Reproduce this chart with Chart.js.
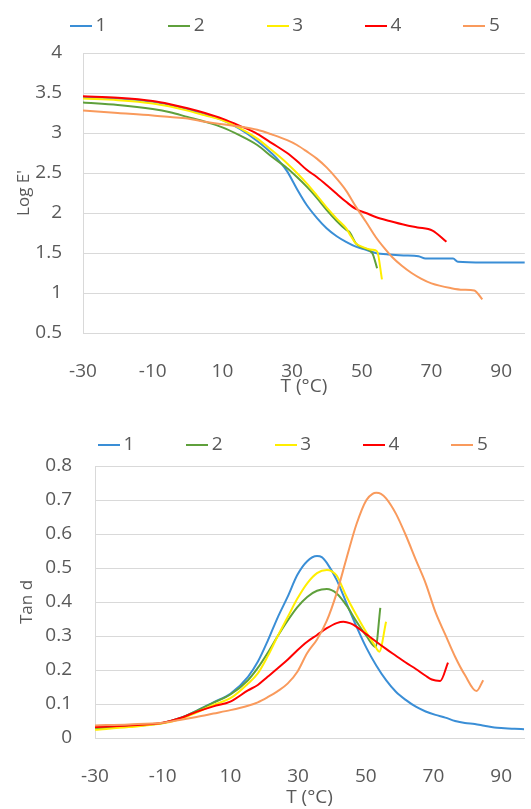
<!DOCTYPE html>
<html>
<head>
<meta charset="utf-8">
<script src="https://cdn.jsdelivr.net/npm/chart.js@4/dist/chart.umd.min.js"></script>
<style>
  html, body { margin: 0; padding: 0; background: #fff; overflow: hidden; }
  .box { position: relative; width: 531px; }
  #top_box { height: 402px; }
  #bottom_box { height: 407px; }
</style>
</head>
<body>
<div class="box" id="top_box"><canvas id="modulus"></canvas></div>
<div class="box" id="bottom_box"><canvas id="tan_delta"></canvas></div>
<script>
const FONT = 'Open Sans';
const TEXT_COLOR = '#595959';
const GRID_COLOR = '#d9d9d9';
const LEGEND_LINE = 22;
const LEGEND_BOX = 10;

const SERIES = ['1', '2', '3', '4', '5'];
const COLORS = ['#3a8ed6', '#5fa03c', '#ffee00', '#ff0000', '#f99a5c'];

const X_MIN = -30;
const X_MAX = 96.8;
const X_TICKS = [-30, -10, 10, 30, 50, 70, 90];
const LOG_E_TICKS = [0.5, 1, 1.5, 2, 2.5, 3, 3.5, 4];
const TAN_D_TICKS = [0, 0.1, 0.2, 0.3, 0.4, 0.5, 0.6, 0.7, 0.8];

// Log E' against temperature
const t_e1 = [-30, -20, -10, -5, 0, 5, 10, 15, 20, 24.3, 26.5, 28.6, 31.4, 34.2, 37.1, 39.9, 42.8, 45.5, 48.3, 51.2, 54, 58, 62, 66.3, 68.3, 76.2, 77.6, 85, 96.8];
const log_e1 = [3.45, 3.43, 3.39, 3.35, 3.3, 3.23, 3.16, 3.05, 2.9, 2.74, 2.64, 2.52, 2.3, 2.1, 1.94, 1.81, 1.71, 1.64, 1.58, 1.54, 1.5, 1.48, 1.47, 1.46, 1.43, 1.43, 1.39, 1.38, 1.38];

const t_e2 = [-30, -20, -10, -5, 0, 5, 10, 15, 20, 24.3, 28.6, 31.4, 34.2, 37.1, 39.9, 42.8, 45.5, 46.5, 48.3, 50, 53, 54.4];
const log_e2 = [3.38, 3.35, 3.3, 3.26, 3.2, 3.14, 3.07, 2.97, 2.85, 2.7, 2.56, 2.45, 2.33, 2.19, 2.04, 1.9, 1.79, 1.76, 1.62, 1.57, 1.5, 1.31];

const t_e3 = [-30, -20, -10, -5, 0, 5, 10, 15, 20, 24.3, 28.6, 31.4, 34.2, 37.1, 39.9, 42.8, 45.5, 46.9, 48.3, 50, 53, 54.4, 55.8];
const log_e3 = [3.43, 3.41, 3.37, 3.33, 3.28, 3.22, 3.16, 3.06, 2.93, 2.78, 2.62, 2.5, 2.37, 2.22, 2.07, 1.93, 1.81, 1.71, 1.62, 1.58, 1.54, 1.52, 1.17];

const t_e4 = [-30, -20, -10, -5, 0, 5, 10, 15, 20, 24.3, 28.6, 31.4, 34.2, 37.1, 39.9, 42.8, 45.5, 48.3, 51.2, 54, 58, 62.5, 66, 70.3, 74.3];
const log_e4 = [3.46, 3.44, 3.4, 3.36, 3.31, 3.25, 3.18, 3.09, 2.99, 2.87, 2.75, 2.65, 2.54, 2.45, 2.35, 2.24, 2.14, 2.05, 2.0, 1.95, 1.9, 1.85, 1.82, 1.78, 1.64];

const t_e5 = [-30, -20, -10, -5, 0, 5, 10, 15, 20, 24.3, 28.6, 31.4, 34.2, 37.1, 39.9, 42.8, 45.5, 48.3, 51.2, 54, 56.5, 58.7, 61.5, 64.3, 67, 70, 75.7, 79, 82.3, 84.6];
const log_e5 = [3.28, 3.25, 3.22, 3.2, 3.18, 3.14, 3.11, 3.08, 3.04, 2.98, 2.91, 2.85, 2.77, 2.68, 2.57, 2.43, 2.28, 2.08, 1.89, 1.7, 1.56, 1.45, 1.34, 1.25, 1.18, 1.12, 1.06, 1.04, 1.03, 0.92];

// Tan d against temperature
const t_tan1 = [-30, -20, -10, -5, 0, 5, 10, 15.2, 18.1, 21, 24, 26.9, 29.8, 32.7, 35.6, 37, 38.5, 41.4, 44.3, 47.3, 50.2, 53.1, 56, 58.9, 61.8, 64.8, 67.7, 70.6, 73.5, 76.4, 79.3, 82.2, 85, 88, 91, 94, 96.8];
const tan1 = [0.028, 0.035, 0.044, 0.058, 0.08, 0.105, 0.13, 0.18, 0.224, 0.285, 0.355, 0.415, 0.48, 0.52, 0.535, 0.532, 0.515, 0.465, 0.397, 0.327, 0.265, 0.213, 0.17, 0.136, 0.112, 0.092, 0.078, 0.068, 0.06, 0.05, 0.044, 0.041, 0.036, 0.031, 0.029, 0.027, 0.026];

const t_tan2 = [-30, -20, -10, -5, 0, 5, 10, 15.2, 18.1, 21, 24, 26.9, 29.8, 32.7, 35.6, 38.5, 41.4, 44.3, 47.3, 50.2, 52.9, 54.3];
const tan2 = [0.028, 0.035, 0.044, 0.058, 0.08, 0.104, 0.128, 0.17, 0.206, 0.25, 0.3, 0.345, 0.385, 0.415, 0.433, 0.438, 0.425, 0.39, 0.342, 0.3, 0.268, 0.383];

const t_tan3 = [-30, -20, -10, -5, 0, 5, 10, 15.2, 18.1, 21, 24, 26.9, 29.8, 32.7, 35.6, 38.5, 40, 41.4, 44.3, 47.3, 50.2, 52.5, 54, 56];
const tan3 = [0.024, 0.032, 0.043, 0.055, 0.075, 0.097, 0.117, 0.16, 0.19, 0.24, 0.3, 0.355, 0.41, 0.455, 0.485, 0.494, 0.49, 0.478, 0.416, 0.36, 0.31, 0.275, 0.254, 0.342];

const t_tan4 = [-30, -20, -10, -5, 0, 5, 10, 15.2, 18.1, 21, 24, 26.9, 29.8, 32.7, 35.6, 38.5, 41.4, 43.4, 45.5, 47.3, 50.2, 53.1, 56, 58.9, 61.8, 64.8, 67.7, 69.5, 72, 74.3];
const tan4 = [0.032, 0.037, 0.045, 0.058, 0.077, 0.093, 0.107, 0.14, 0.156, 0.18, 0.205, 0.23, 0.258, 0.283, 0.303, 0.323, 0.338, 0.342, 0.337, 0.327, 0.305, 0.283, 0.262, 0.242, 0.222, 0.203, 0.183, 0.172, 0.168, 0.222];

const t_tan5 = [-30, -20, -10, -5, 0, 5, 10, 15.2, 18.1, 21, 24, 26.9, 29.8, 32.7, 35.6, 38.5, 41.4, 44.3, 47.3, 50.2, 52, 53.1, 54.5, 56, 58.9, 61.8, 64.8, 67.7, 70.6, 73.5, 76.4, 79.3, 82.7, 84.7];
const tan5 = [0.037, 0.04, 0.045, 0.053, 0.062, 0.072, 0.082, 0.095, 0.105, 0.12, 0.138, 0.16, 0.195, 0.25, 0.29, 0.345, 0.426, 0.528, 0.63, 0.7, 0.718, 0.721, 0.718, 0.705, 0.66, 0.597, 0.524, 0.455, 0.37, 0.304, 0.239, 0.185, 0.138, 0.17];


function points(temps, values) {
  return temps.map((t, i) => ({x: t, y: values[i]}));
}

// short line used as the legend sample
function legend_line(color) {
  const c = document.createElement('canvas');
  c.width = LEGEND_LINE;
  c.height = 2;
  const ctx = c.getContext('2d');
  ctx.fillStyle = color;
  ctx.fillRect(0, 0, LEGEND_LINE, 2);
  return c;
}

function make_datasets(curves) {
  return curves.map((c, i) => ({
    label: SERIES[i],
    data: points(c[0], c[1]),
    borderColor: COLORS[i],
    backgroundColor: COLORS[i],
    borderWidth: 2,
    pointRadius: 0,
    pointStyle: legend_line(COLORS[i]),
    cubicInterpolationMode: 'monotone',
    order: curves.length - i
  }));
}

// legend sits off-centre in the original, so move it after layout
function legend_placer(line_left, middle, band) {
  return {
    id: 'legend_placer',
    beforeInit(chart) {
      const legend = chart.legend;
      const fit = legend.fit;
      legend.fit = function() {
        const width = this.maxWidth;
        this.maxWidth = 5000;
        fit.call(this);
        this.maxWidth = width;
        this.width = width;
        this.height = band;
      };
    },
    afterLayout(chart) {
      const legend = chart.legend;
      const pad = legend.options.labels.padding;
      legend.left = line_left + (LEGEND_LINE - LEGEND_BOX) / 2 - pad;
      legend.right = legend.left + 5000;
      legend.top = middle - 19 / 2 - pad;
    }
  };
}

function make_chart(id, curves, cfg) {
  const tick_font = {family: FONT, size: 19};
  return new Chart(document.getElementById(id), {
    type: 'line',
    data: {datasets: make_datasets(curves)},
    options: {
      responsive: true,
      maintainAspectRatio: false,
      animation: false,
      layout: {padding: 0},
      plugins: {
        legend: {
          align: 'start',
          labels: {
            usePointStyle: true,
            pointStyleWidth: LEGEND_BOX,
            padding: cfg.legend_gap,
            color: TEXT_COLOR,
            font: tick_font,
            sort: (a, b) => a.datasetIndex - b.datasetIndex
          }
        },
        tooltip: {enabled: false}
      },
      scales: {
        x: {
          type: 'linear',
          min: X_MIN,
          max: X_MAX,
          afterBuildTicks: scale => { scale.ticks = X_TICKS.map(v => ({value: v})); },
          afterFit: scale => { scale.height = cfg.x_height; },
          grid: {display: false},
          border: {color: GRID_COLOR, width: 1},
          ticks: {padding: 19, color: TEXT_COLOR, font: tick_font, maxRotation: 0, autoSkip: false,
                  callback: v => String(v)},
          title: {display: true, text: 'T (°C)', color: TEXT_COLOR, font: {family: FONT, size: 19},
                  padding: {top: 0, bottom: cfg.x_title_pad}}
        },
        y: {
          min: cfg.y_ticks[0],
          max: cfg.y_ticks[cfg.y_ticks.length - 1],
          afterBuildTicks: scale => { scale.ticks = cfg.y_ticks.map(v => ({value: v})); },
          afterFit: scale => { scale.width = cfg.y_width; },
          grid: {color: GRID_COLOR, drawTicks: false},
          border: {color: GRID_COLOR, width: 1},
          ticks: {padding: cfg.y_tick_pad, color: TEXT_COLOR, font: tick_font, callback: v => String(v)},
          title: {display: true, text: cfg.y_title, color: TEXT_COLOR, font: {family: FONT, size: 17},
                  padding: {top: cfg.y_title_pad, bottom: 0}}
        }
      }
    },
    plugins: [legend_placer(cfg.legend_left, cfg.legend_middle, cfg.legend_band)]
  });
}

make_chart('modulus', [
  [t_e1, log_e1], [t_e2, log_e2], [t_e3, log_e3], [t_e4, log_e4], [t_e5, log_e5]
], {
  y_ticks: LOG_E_TICKS,
  y_title: "Log E'",
  y_width: 83,
  y_tick_pad: 21,
  y_title_pad: 14,
  x_height: 69,
  x_title_pad: 4,
  legend_left: 70,
  legend_middle: 25.5,
  legend_band: 53,
  legend_gap: 68
});

make_chart('tan_delta', [
  [t_tan1, tan1], [t_tan2, tan2], [t_tan3, tan3], [t_tan4, tan4], [t_tan5, tan5]
], {
  y_ticks: TAN_D_TICKS,
  y_title: 'Tan d',
  y_width: 95,
  y_tick_pad: 23,
  y_title_pad: 17,
  x_height: 71,
  x_title_pad: 0,
  legend_left: 98,
  legend_middle: 43,
  legend_band: 64,
  legend_gap: 58
});
</script>
</body>
</html>
